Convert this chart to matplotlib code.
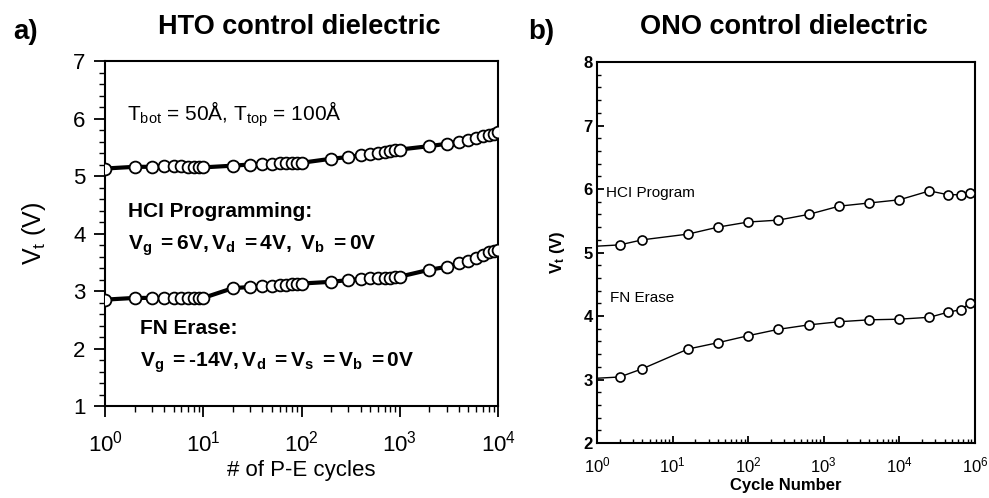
import numpy as np
import matplotlib
matplotlib.use("Agg")
import matplotlib.pyplot as plt
from matplotlib.ticker import FixedLocator, LogLocator, MultipleLocator, NullFormatter

plt.rcParams["font.family"] = ["Liberation Sans", "DejaVu Sans"]
plt.rcParams["mathtext.fontset"] = "custom"
plt.rcParams["mathtext.rm"] = "Liberation Sans"
plt.rcParams["mathtext.it"] = "Liberation Sans:italic"
plt.rcParams["mathtext.bf"] = "Liberation Sans:bold"

# ---- a) HTO control dielectric: Vt vs P-E cycles ----
hto_cycles = [1, 2, 3, 4, 5, 6, 7, 8, 9, 10,
              20, 30, 40, 50, 60, 70, 80, 90, 100,
              200, 300, 400, 500, 600, 700, 800, 900, 1000,
              2000, 3000, 4000, 5000, 6000, 7000, 8000, 9000, 10000]
hto_prog = [5.13, 5.16, 5.16, 5.17, 5.17, 5.17, 5.16, 5.16, 5.15, 5.15,
            5.18, 5.20, 5.21, 5.21, 5.22, 5.22, 5.23, 5.23, 5.23,
            5.30, 5.33, 5.36, 5.38, 5.40, 5.42, 5.44, 5.45, 5.46,
            5.52, 5.56, 5.60, 5.63, 5.66, 5.69, 5.71, 5.73, 5.76]
hto_erase = [2.85, 2.88, 2.88, 2.88, 2.88, 2.88, 2.88, 2.88, 2.88, 2.88,
             3.05, 3.07, 3.08, 3.09, 3.10, 3.11, 3.12, 3.12, 3.13,
             3.16, 3.19, 3.21, 3.22, 3.22, 3.23, 3.23, 3.24, 3.25,
             3.37, 3.42, 3.48, 3.53, 3.58, 3.63, 3.67, 3.70, 3.72]

# ---- b) ONO control dielectric: Vt vs cycle number ----
ono_cycles = [1, 2, 4, 16, 40, 100, 250, 630, 1600, 4000, 10000,
              25000, 44000, 65000, 85000]
ono_prog = [5.10, 5.12, 5.20, 5.29, 5.40, 5.48, 5.51, 5.60, 5.73, 5.78, 5.83,
            5.97, 5.91, 5.91, 5.94]
ono_erase = [3.02, 3.04, 3.17, 3.48, 3.58, 3.69, 3.79, 3.86, 3.91, 3.94, 3.95,
             3.98, 4.06, 4.10, 4.20]
ono_xticks = [1, 10, 100, 1000, 10000, 100000]
ono_xticklabels = ["$10^0$", "$10^1$", "$10^2$", "$10^3$", "$10^4$", "$10^6$"]

fig = plt.figure(figsize=(9.89, 4.98), dpi=100)
ax1 = fig.add_axes([0.1062, 0.1847, 0.3974, 0.6928])
ax2 = fig.add_axes([0.6036, 0.1104, 0.3822, 0.7651])

# panel a
for y in (hto_prog, hto_erase):
    ax1.plot(hto_cycles, y, color="black", lw=3.0, zorder=2)
    ax1.plot(hto_cycles, y, ls="none", marker="o", ms=8.5, mfc="white",
             mec="black", mew=1.3, zorder=3)
ax1.set_xscale("log")
ax1.set_xlim(1, 1e4)
ax1.set_ylim(1, 7)
ax1.xaxis.set_major_locator(FixedLocator([1, 10, 100, 1000, 10000]))
ax1.set_xticklabels(["$10^0$", "$10^1$", "$10^2$", "$10^3$", "$10^4$"])
ax1.xaxis.set_minor_locator(LogLocator(base=10, subs=np.arange(2, 10)))
ax1.xaxis.set_minor_formatter(NullFormatter())
ax1.yaxis.set_major_locator(MultipleLocator(1))
ax1.yaxis.set_minor_locator(MultipleLocator(0.2))
ax1.tick_params(which="major", direction="out", length=8, width=1.3,
                labelsize=16, pad=6)
ax1.tick_params(which="minor", direction="out", length=4, width=1.0)
ax1.tick_params(axis="x", which="major", pad=10)
for s in ax1.spines.values():
    s.set_linewidth(1.5)
ax1.set_xlabel("# of P-E cycles", fontsize=16, labelpad=2)
ax1.set_ylabel("V$_\\mathregular{t}$ (V)", fontsize=18, labelpad=18)

ax1.text(0.055, 0.845, r"T$_{\mathregular{bot}}$ = 50Å, T$_{\mathregular{top}}$ = 100Å",
         transform=ax1.transAxes, fontsize=15, va="center")
ax1.text(0.058, 0.565, "HCI Programming:", transform=ax1.transAxes,
         fontsize=15, fontweight="bold", va="center")
ax1.text(0.058, 0.465, r"$\mathbf{V_g\ = 6V, V_d\ = 4V,\ V_b\ = 0V}$",
         transform=ax1.transAxes, fontsize=15, va="center")
ax1.text(0.088, 0.225, "FN Erase:", transform=ax1.transAxes,
         fontsize=15, fontweight="bold", va="center")
ax1.text(0.088, 0.125, "$\\mathbf{V_g\\ = \u2010 14V, V_d\\ = V_s\\ = V_b\\ = 0V}$",
         transform=ax1.transAxes, fontsize=15, va="center")

# panel b
for y in (ono_prog, ono_erase):
    ax2.plot(ono_cycles, y, color="black", lw=1.0, zorder=2)
    ax2.plot(ono_cycles[1:], y[1:], ls="none", marker="o", ms=6.5,
             mfc="white", mec="black", mew=1.2, zorder=3)
ax2.set_xscale("log")
ax2.set_xlim(1, 1e5)
ax2.set_ylim(2, 8)
ax2.xaxis.set_major_locator(FixedLocator(ono_xticks))
ax2.set_xticklabels(ono_xticklabels)
ax2.xaxis.set_minor_locator(LogLocator(base=10, subs=np.arange(2, 10)))
ax2.xaxis.set_minor_formatter(NullFormatter())
ax2.yaxis.set_major_locator(MultipleLocator(1))
ax2.yaxis.set_minor_locator(MultipleLocator(0.2))
ax2.tick_params(which="major", direction="in", length=5, width=1.3,
                labelsize=12, pad=3)
ax2.tick_params(which="minor", direction="in", length=3, width=1.0)
ax2.tick_params(axis="x", which="major", pad=9)
for lab in ax2.get_xticklabels() + ax2.get_yticklabels():
    lab.set_fontweight("bold")
for s in ax2.spines.values():
    s.set_linewidth(1.5)
ax2.set_xlabel("Cycle Number", fontsize=12, fontweight="bold", labelpad=2)
ax2.set_ylabel(r"$\mathbf{V_t}$ (V)", fontsize=12, fontweight="bold", labelpad=12)
ax2.text(0.025, 0.655, "HCI Program", transform=ax2.transAxes, fontsize=11,
         va="center")
ax2.text(0.035, 0.38, "FN Erase", transform=ax2.transAxes, fontsize=11,
         va="center")

# panel labels and titles
fig.text(0.026, 0.935, "a)", fontsize=20, fontweight="bold", ha="center", va="center")
fig.text(0.547, 0.935, "b)", fontsize=20, fontweight="bold", ha="center", va="center")
fig.text(0.303, 0.945, "HTO control dielectric", fontsize=19.5,
         fontweight="bold", ha="center", va="center")
fig.text(0.793, 0.945, "ONO control dielectric", fontsize=19.5,
         fontweight="bold", ha="center", va="center")

fig.savefig("out.png", dpi=100)
